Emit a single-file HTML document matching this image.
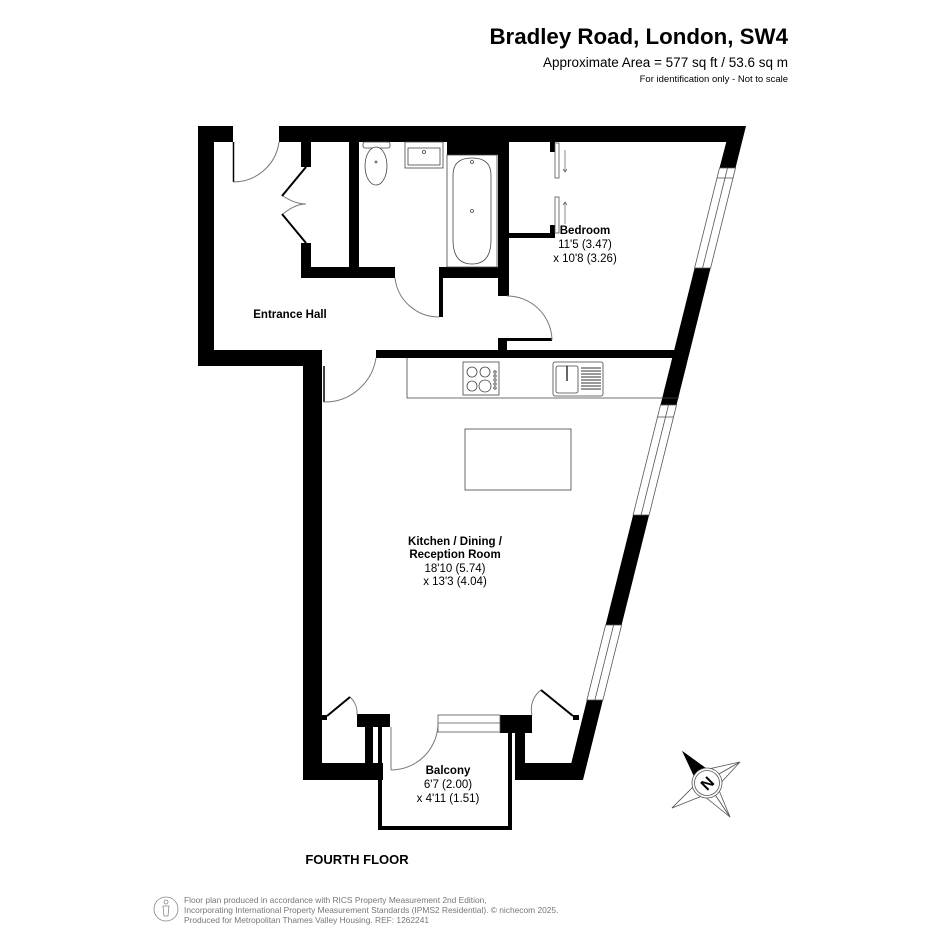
<!DOCTYPE html>
<html><head><meta charset="utf-8"><style>
html,body{margin:0;padding:0;background:#fff;width:945px;height:945px;overflow:hidden}
svg{display:block}
text{font-family:"Liberation Sans",Arial,sans-serif}
</style></head><body>
<svg width="945" height="945" viewBox="0 0 945 945" xmlns="http://www.w3.org/2000/svg">
<rect width="945" height="945" fill="#fff"/>
<text x="788" y="44" font-size="22.3" font-weight="bold" text-anchor="end">Bradley Road, London, SW4</text>
<text x="788" y="67" font-size="13.5" text-anchor="end">Approximate Area = 577 sq ft / 53.6 sq m</text>
<text x="788" y="82" font-size="9.5" text-anchor="end">For identification only - Not to scale</text>

<g fill="#000">
<rect x="198" y="126" width="35" height="16"/>
<rect x="279" y="126" width="440" height="16"/>
<rect x="198" y="126" width="16" height="240"/>
<rect x="198" y="350" width="124" height="16"/>
<rect x="303" y="350" width="19" height="430"/>
<rect x="376" y="350" width="300" height="8"/>
<rect x="301" y="142" width="10" height="25"/>
<rect x="301" y="243" width="10" height="34"/>
<rect x="301" y="267" width="94" height="11"/>
<rect x="349" y="142" width="10" height="130"/>
<rect x="447" y="142" width="56" height="13"/>
<rect x="439" y="267" width="70" height="11"/>
<rect x="439" y="267" width="4" height="50"/>
<rect x="498" y="142" width="11" height="154"/>
<rect x="509" y="233" width="45" height="5"/>
<rect x="550" y="225" width="5" height="13"/>
<rect x="550" y="142" width="5" height="10"/>
<rect x="498" y="338" width="9" height="14"/>
<rect x="507" y="338" width="45" height="3"/>
<polygon points="700,126 746,126 735.5,168 719.5,168 726.3,142 700,142"/>
<polygon points="710.6,268 676.5,405 660.5,405 694.6,268"/>
<polygon points="649.1,515 621.6,625 605.6,625 633.1,515"/>
<polygon points="602.9,700 583,780 515,780 515,763 571.3,763 586.9,700"/>
<rect x="303" y="763" width="80" height="17"/>
<rect x="365" y="714" width="8" height="66"/>
<rect x="357" y="714" width="33" height="13"/>
<rect x="378" y="727" width="4" height="103"/>
<rect x="321" y="715" width="6" height="5"/>
<rect x="500" y="715" width="32" height="18"/>
<rect x="515" y="715" width="10" height="65"/>
<rect x="508" y="733" width="4" height="97"/>
<rect x="378" y="826" width="134" height="4"/>
<rect x="573" y="715" width="6" height="5"/>
</g>

<g fill="#fff" stroke="#555" stroke-width="0.8">
<polygon points="735.5,168 710.6,268 694.6,268 719.5,168"/>
<line x1="727.5" y1="168" x2="702.6" y2="268"/>
<line x1="733" y1="178" x2="717" y2="178"/>
<polygon points="676.5,405 649.1,515 633.1,515 660.5,405"/>
<line x1="668.5" y1="405" x2="641.1" y2="515"/>
<line x1="673.5" y1="417" x2="657.5" y2="417"/>
<polygon points="621.6,625 602.9,700 586.9,700 605.6,625"/>
<line x1="613.6" y1="625" x2="594.9" y2="700"/>
<rect x="438" y="715" width="62" height="17"/>
<line x1="438" y1="723" x2="500" y2="723"/>
</g>

<g fill="none" stroke="#777" stroke-width="1">
<line x1="233.5" y1="142" x2="233.5" y2="182" stroke="#000" stroke-width="1.5"/>
<path d="M233.5,182 A46,46 0 0 0 279,142"/>
<path d="M395,278 A44,44 0 0 0 439,317"/>
<path d="M507,296 A45,45 0 0 1 552,340"/>
<line x1="324" y1="366" x2="324" y2="402" stroke="#000" stroke-width="1.5"/>
<path d="M324,402 A52,52 0 0 0 376,358"/>
<path d="M350,697 A22,22 0 0 1 357,715"/>
<path d="M541,690 A24,24 0 0 0 532,715"/>
<line x1="391" y1="727" x2="391" y2="770"/>
<path d="M391,770 A47,47 0 0 0 438,723"/>
<path d="M283,196 Q295,204 306,204 Q295,204 283,214"/>
</g>
<g stroke="#000" stroke-width="2" fill="none">
<polyline points="306,167 282,196"/>
<polyline points="282,214 306,243"/>
<line x1="327" y1="716" x2="350" y2="697"/>
<line x1="573" y1="716" x2="541" y2="690"/>
</g>

<g fill="#fff" stroke="#555" stroke-width="0.8">
<rect x="555" y="143" width="4" height="35"/>
<rect x="555" y="197" width="4" height="36"/>
</g>
<g stroke="#555" stroke-width="0.7" fill="none">
<line x1="565" y1="150" x2="565" y2="172"/><path d="M563,169 L565,172 L567,169"/>
<line x1="565" y1="202" x2="565" y2="224"/><path d="M563,205 L565,202 L567,205"/>
</g>

<g fill="#fff" stroke="#444" stroke-width="0.8">
<rect x="363" y="142" width="27" height="6" rx="2"/>
<ellipse cx="376" cy="166" rx="11" ry="19"/>
<circle cx="376" cy="162" r="1"/>
<rect x="405" y="142" width="38" height="26"/>
<rect x="408" y="148" width="32" height="17"/>
<circle cx="424" cy="152" r="1.5"/>
<rect x="447" y="155" width="50" height="112" fill="none"/>
<path d="M453,175 Q453,158 472,158 Q491,158 491,175 L491,240 Q491,264 472,264 Q453,264 453,240 Z"/>
<circle cx="472" cy="211" r="1.5"/>
<circle cx="472" cy="162" r="1.5"/>
</g>

<g fill="#fff" stroke="#444" stroke-width="0.8">
<polyline points="679,398 407,398 407,358" fill="none"/>
<rect x="463" y="362" width="36" height="33"/>
<circle cx="472" cy="372" r="5"/><circle cx="485" cy="372" r="5"/>
<circle cx="472" cy="386" r="5"/><circle cx="485" cy="386" r="6"/>
<circle cx="495" cy="372" r="1.2"/><circle cx="495" cy="376" r="1.2"/><circle cx="495" cy="380" r="1.2"/><circle cx="495" cy="384" r="1.2"/><circle cx="495" cy="388" r="1.2"/>
<rect x="553" y="362" width="50" height="34" rx="2"/>
<rect x="556" y="366" width="22" height="27" rx="2"/>
<line x1="567" y1="366" x2="567" y2="381" stroke="#000" stroke-width="1.2"/>
<rect x="465" y="429" width="106" height="61"/>
</g>
<g stroke="#333" stroke-width="1">
<line x1="581" y1="368" x2="601" y2="368"/><line x1="581" y1="371" x2="601" y2="371"/><line x1="581" y1="374" x2="601" y2="374"/><line x1="581" y1="377" x2="601" y2="377"/><line x1="581" y1="380" x2="601" y2="380"/><line x1="581" y1="383" x2="601" y2="383"/><line x1="581" y1="386" x2="601" y2="386"/><line x1="581" y1="389" x2="601" y2="389"/>
</g>

<g font-size="11.5" text-anchor="middle">
<text x="290" y="318" font-weight="bold">Entrance Hall</text>
<text x="585" y="234" font-weight="bold">Bedroom</text>
<text x="585" y="248">11'5 (3.47)</text>
<text x="585" y="262">x 10'8 (3.26)</text>
<text x="455" y="545" font-weight="bold">Kitchen / Dining /</text>
<text x="455" y="558" font-weight="bold">Reception Room</text>
<text x="455" y="572">18'10 (5.74)</text>
<text x="455" y="585">x 13'3 (4.04)</text>
<text x="448" y="774" font-weight="bold">Balcony</text>
<text x="448" y="788">6'7 (2.00)</text>
<text x="448" y="802">x 4'11 (1.51)</text>
</g>
<text x="357" y="864" font-size="13" font-weight="bold" text-anchor="middle">FOURTH FLOOR</text>

<g stroke="#555" stroke-width="0.8" fill="#fff">
<polygon points="740,762 712,778 704,770"/>
<polygon points="740,762 716,788 712,778"/>
<polygon points="672,808 698,782 704,790"/>
<polygon points="672,808 702,796 698,782"/>
<polygon points="730,817 712,790 704,796"/>
<polygon points="730,817 718,788 712,790"/>
<polygon points="683,752 708,770 696,780" fill="#000" stroke="#000"/>
<circle cx="707" cy="783" r="15"/>
<circle cx="707" cy="783" r="12.5"/>
</g>
<text x="707" y="789" font-size="16" font-weight="bold" text-anchor="middle" transform="rotate(-45 707 783)">N</text>

<g fill="none" stroke="#888" stroke-width="0.8">
<circle cx="166" cy="909" r="12"/>
<circle cx="166" cy="902" r="2"/>
<path d="M163,906 L169,906 L168,916 L164,916 Z"/>
</g>
<g font-size="8.4" fill="#777">
<text x="184" y="903">Floor plan produced in accordance with RICS Property Measurement 2nd Edition,</text>
<text x="184" y="913">Incorporating International Property Measurement Standards (IPMS2 Residential).   © nichecom 2025.</text>
<text x="184" y="923">Produced for Metropolitan Thames Valley Housing.   REF:  1262241</text>
</g>
</svg>
</body></html>
